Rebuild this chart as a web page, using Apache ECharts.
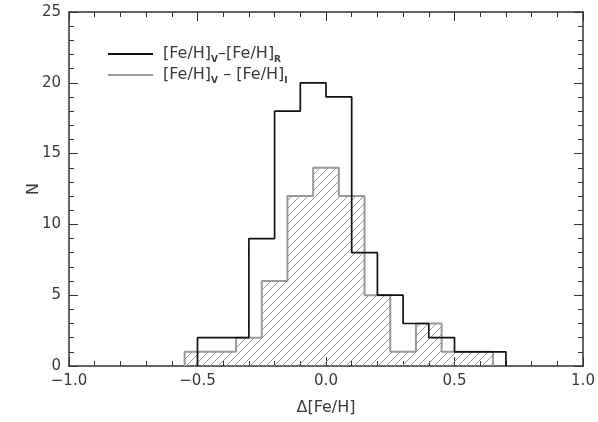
<!DOCTYPE html>
<html>
<head>
<meta charset="utf-8">
<script src="https://cdn.jsdelivr.net/npm/echarts@6/dist/echarts.min.js"></script>
<style>
  html, body { margin: 0; padding: 0; background: #fff; }
  #main { width: 598px; height: 422px; }
</style>
</head>
<body>
<div id="main"></div>
<script>
// bin edges and counts (bin width 0.1)
var edgesR = [-0.5, -0.4, -0.3, -0.2, -0.1, 0.0, 0.1, 0.2, 0.3, 0.4, 0.5, 0.6, 0.7];
var countsR = [2, 2, 9, 18, 20, 19, 8, 5, 3, 2, 1, 1];

var edgesI = [-0.55, -0.45, -0.35, -0.25, -0.15, -0.05, 0.05, 0.15, 0.25, 0.35, 0.45, 0.55, 0.65];
var countsI = [1, 1, 2, 6, 12, 14, 12, 5, 1, 3, 1, 1];

var xTicks = [-1.0, -0.5, 0.0, 0.5, 1.0];
var yTicks = [0, 5, 10, 15, 20, 25];

var nameR = '[Fe/H]V-[Fe/H]R';
var nameI = '[Fe/H]V - [Fe/H]I';

// turn a histogram into points for a stepped line
function stepPoints(edges, counts) {
  var pts = [[edges[0], 0]];
  for (var i = 0; i < counts.length; i++) {
    pts.push([edges[i], counts[i]]);
  }
  pts.push([edges[edges.length - 1], 0]);
  return pts;
}

// hatch pattern for the shaded histogram
function hatch() {
  var s = 8;
  var c = document.createElement('canvas');
  c.width = s; c.height = s;
  var ctx = c.getContext('2d');
  ctx.strokeStyle = '#9a9a9a';
  ctx.lineWidth = 1;
  ctx.beginPath();
  ctx.moveTo(0, s); ctx.lineTo(s, 0);
  ctx.moveTo(-1, 1); ctx.lineTo(1, -1);
  ctx.moveTo(s - 1, s + 1); ctx.lineTo(s + 1, s - 1);
  ctx.stroke();
  return c;
}

var txt = '#3a3a3a';
var font = 'DejaVu Sans';

var myChart = echarts.init(document.getElementById('main'));

var tickCfg = { show: true, inside: true, length: 9, lineStyle: { color: '#333', width: 1 } };
var minorCfg = { show: true, splitNumber: 5, length: 5, lineStyle: { color: '#333', width: 1 } };
var lineCfg = { show: true, onZero: false, lineStyle: { color: '#333', width: 1.5 } };

var option = {
  animation: false,
  backgroundColor: '#fff',
  grid: { left: 69, right: 15, top: 12, bottom: 56 },
  legend: {
    orient: 'vertical',
    left: 103,
    top: 41,
    itemWidth: 45,
    itemHeight: 2,
    itemGap: 3,
    selectedMode: false,
    data: [
      { name: nameR, icon: 'rect', itemStyle: { color: '#111' } },
      { name: nameI, icon: 'rect', itemStyle: { color: '#999' } }
    ],
    formatter: function (n) {
      if (n === nameR) return '{t|[Fe/H]}{s|V}{t|\u2013[Fe/H]}{s|R}';
      return '{t|[Fe/H]}{s|V}{t| \u2013 [Fe/H]}{s|I}';
    },
    textStyle: {
      padding: [0, 0, 0, 5],
      rich: {
        t: { fontFamily: font, fontSize: 16, color: txt, lineHeight: 20 },
        s: { fontFamily: font, fontSize: 9, fontWeight: 'bold', color: txt, lineHeight: 20, verticalAlign: 'bottom', padding: [6, 0, 0, 0] }
      }
    }
  },
  xAxis: [{
    type: 'value',
    min: xTicks[0],
    max: xTicks[xTicks.length - 1],
    interval: 0.5,
    name: '\u0394[Fe/H]',
    nameLocation: 'middle',
    nameGap: 34,
    nameTextStyle: { fontFamily: font, fontSize: 16, color: txt },
    axisLine: lineCfg,
    axisTick: tickCfg,
    minorTick: minorCfg,
    splitLine: { show: false },
    axisLabel: {
      fontFamily: font, fontSize: 15, color: txt, margin: 8,
      formatter: function (v) { return (v < 0 ? '\u2212' : '') + Math.abs(v).toFixed(1); }
    }
  }, {
    type: 'value',
    position: 'top',
    min: xTicks[0],
    max: xTicks[xTicks.length - 1],
    interval: 0.5,
    axisLine: lineCfg,
    axisTick: tickCfg,
    minorTick: minorCfg,
    splitLine: { show: false },
    axisLabel: { show: false }
  }],
  yAxis: [{
    type: 'value',
    min: yTicks[0],
    max: yTicks[yTicks.length - 1],
    interval: 5,
    name: 'N',
    nameLocation: 'middle',
    nameGap: 27,
    nameMoveOverlap: false,
    nameRotate: 90,
    nameTextStyle: { fontFamily: font, fontSize: 16, color: txt },
    axisLine: lineCfg,
    axisTick: tickCfg,
    minorTick: minorCfg,
    splitLine: { show: false },
    axisLabel: { fontFamily: font, fontSize: 15, color: txt, margin: 8 }
  }, {
    type: 'value',
    position: 'right',
    min: yTicks[0],
    max: yTicks[yTicks.length - 1],
    interval: 5,
    axisLine: lineCfg,
    axisTick: tickCfg,
    minorTick: minorCfg,
    splitLine: { show: false },
    axisLabel: { show: false }
  }],
  series: [
    {
      name: nameI,
      type: 'line',
      step: 'end',
      symbol: 'none',
      z: 2,
      lineStyle: { color: '#999', width: 2 },
      itemStyle: { color: '#999' },
      areaStyle: { color: { image: hatch(), repeat: 'repeat' }, opacity: 1 },
      data: stepPoints(edgesI, countsI)
    },
    {
      name: nameR,
      type: 'line',
      step: 'end',
      symbol: 'none',
      z: 3,
      lineStyle: { color: '#111', width: 1.7 },
      itemStyle: { color: '#111' },
      data: stepPoints(edgesR, countsR)
    }
  ]
};

myChart.setOption(option);
</script>
</body>
</html>
